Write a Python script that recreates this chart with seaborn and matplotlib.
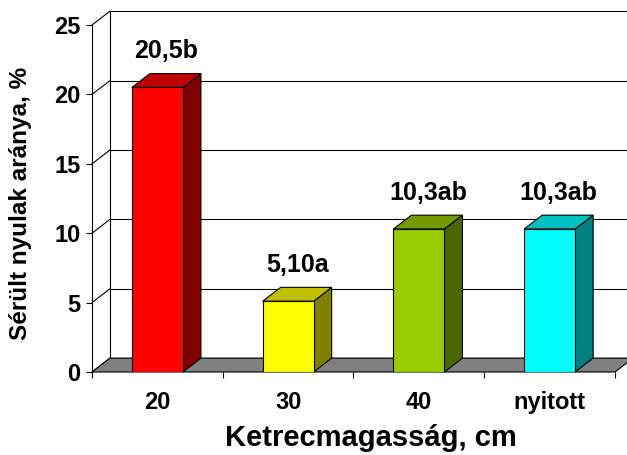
import matplotlib
matplotlib.use("Agg")
import matplotlib.pyplot as plt
import seaborn as sns
import pandas as pd
from matplotlib.patches import Polygon

# Injured rabbits by cage height
categories = ["20", "30", "40", "nyitott"]
injured_pct = [20.5, 5.10, 10.3, 10.3]
value_labels = ["20,5b", "5,10a", "10,3ab", "10,3ab"]
y_ticks = [0, 5, 10, 15, 20, 25]

front_colors = ["#FF0000", "#FFFF00", "#99CC00", "#00FFFF"]
side_colors = ["#800000", "#808000", "#4C6600", "#008080"]
top_colors = ["#C00000", "#C0C000", "#739900", "#00C0C0"]

sns.set_theme(style="white")
plt.rcParams["font.family"] = ["Liberation Sans", "DejaVu Sans"]
plt.rcParams["font.weight"] = "bold"

W, H = 627, 455
fig = plt.figure(figsize=(W / 100, H / 100), dpi=100)
ax = fig.add_axes([92 / W, 83 / H, 523 / W, 347 / H])

df = pd.DataFrame({"cat": categories, "val": injured_pct})
sns.barplot(data=df, x="cat", y="val", hue="cat", palette=front_colors,
            legend=False, width=0.39, saturation=1, edgecolor="black",
            linewidth=0.8, ax=ax, zorder=5)

ax.set_xlim(-0.5, 3.5)
ax.set_ylim(0, 25)

# depth offset of the pseudo-3D box (data units)
DX, DY = 0.138, 1.0
line_kw = dict(color="black", lw=0.8, clip_on=False)

# back wall grid, left wall diagonals
for t in y_ticks:
    ax.plot([-0.5 + DX, 3.5 + DX], [t + DY, t + DY], zorder=1, **line_kw)
    ax.plot([-0.5, -0.5 + DX], [t, t + DY], zorder=1, **line_kw)
ax.plot([-0.5 + DX, -0.5 + DX], [DY, y_ticks[-1] + DY], zorder=1, **line_kw)

# floor
floor = Polygon([(-0.5, 0), (3.5, 0), (3.5 + DX, DY), (-0.5 + DX, DY)],
                closed=True, facecolor="#808080", edgecolor="black",
                lw=0.8, zorder=2, clip_on=False)
ax.add_patch(floor)

# bar sides and tops
for p, sc, tc in zip(ax.patches[:len(categories)], side_colors, top_colors):
    x0, w, h = p.get_x(), p.get_width(), p.get_height()
    side = Polygon([(x0 + w, 0), (x0 + w + DX, DY), (x0 + w + DX, h + DY), (x0 + w, h)],
                   closed=True, facecolor=sc, edgecolor="black", lw=0.8,
                   zorder=4, clip_on=False)
    top = Polygon([(x0, h), (x0 + w, h), (x0 + w + DX, h + DY), (x0 + DX, h + DY)],
                  closed=True, facecolor=tc, edgecolor="black", lw=0.8,
                  zorder=4, clip_on=False)
    ax.add_patch(side)
    ax.add_patch(top)

# value labels
for i, (v, lab) in enumerate(zip(injured_pct, value_labels)):
    ax.text(i + DX / 2, v + 2.6, lab, ha="center", va="center",
            fontsize=18, fontweight="bold", color="black", zorder=6)

for s in ["top", "right", "bottom"]:
    ax.spines[s].set_visible(False)
ax.spines["left"].set_color("black")
ax.spines["left"].set_linewidth(0.8)

ax.set_yticks(y_ticks)
ax.set_xticks(range(len(categories)), labels=categories)
ax.set_xticks([-0.5, 0.5, 1.5, 2.5, 3.5], minor=True)
ax.tick_params(axis="y", left=True, length=4.3, width=0.8, color="black",
               pad=4, labelsize=17, labelcolor="black")
ax.tick_params(axis="x", which="major", bottom=True, length=0, pad=14,
               labelsize=17, labelcolor="black")
ax.tick_params(axis="x", which="minor", bottom=True, length=4.3, width=0.8,
               color="black")
for lbl in ax.get_xticklabels() + ax.get_yticklabels():
    lbl.set_fontweight("bold")

ax.set_xlabel("Ketrecmagasság, cm", fontsize=21, fontweight="bold",
              color="black", va="top")
ax.xaxis.set_label_coords((371 - 92) / 523, (372 - 424) / 347)
ax.set_ylabel("Sérült nyulak aránya, %", fontsize=17.5, fontweight="bold",
              color="black", va="center")
ax.yaxis.set_label_coords((20 - 92) / 523, (372 - 203) / 347)

fig.savefig("out.png", dpi=100)
